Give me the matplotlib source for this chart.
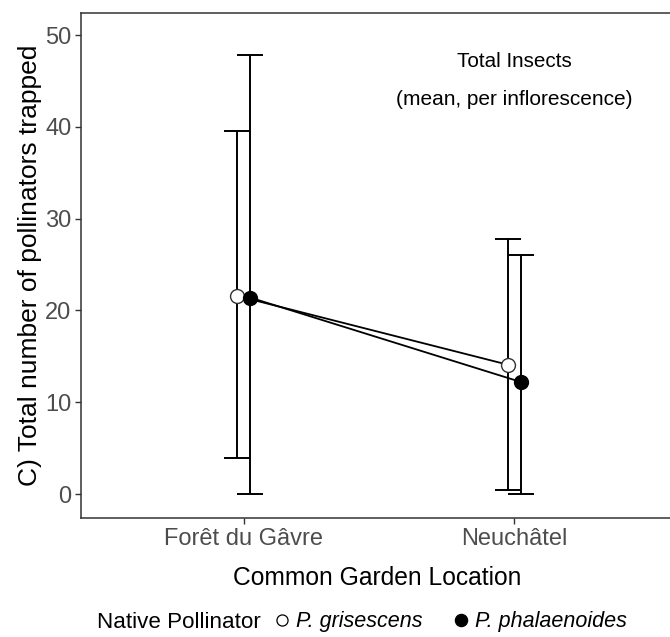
import numpy as np
import matplotlib.pyplot as plt
from matplotlib.lines import Line2D

plt.rcParams["font.family"] = ["Liberation Sans", "DejaVu Sans"]

locations = ["Forêt du Gâvre", "Neuchâtel"]
species = ["P. grisescens", "P. phalaenoides"]
means = {
    "P. grisescens": [21.6, 14.1],
    "P. phalaenoides": [21.4, 12.2],
}
upper = {
    "P. grisescens": [39.5, 27.8],
    "P. phalaenoides": [47.8, 26.0],
}
lower = {
    "P. grisescens": [3.9, 0.5],
    "P. phalaenoides": [0.0, 0.0],
}

faces = {"P. grisescens": "white", "P. phalaenoides": "black"}
dodge = {"P. grisescens": -0.025, "P. phalaenoides": 0.025}

W, H = 670, 637
fig = plt.figure(figsize=(W / 100, H / 100), dpi=100)
# panel from x=81..677 px, y=13..518 px (right border runs off the image)
ax = fig.add_axes([81 / W, 1 - 518 / H, 596 / W, 505 / H])

base = np.arange(1, len(locations) + 1)
for sp in species:
    x = base + dodge[sp]
    m = np.array(means[sp])
    lo = m - np.array(lower[sp])
    hi = np.array(upper[sp]) - m
    ax.errorbar(x, m, yerr=[lo, hi], fmt="none", ecolor="black",
                elinewidth=1.4, capsize=9.7, capthick=1.4, zorder=2)
    ax.plot(x, m, color="black", lw=1.3, zorder=3)
    ax.plot(x, m, "o", ms=10, mfc=faces[sp],
            mec="#333333" if sp == "P. grisescens" else "black",
            mew=1.0, zorder=4)

ax.set_xlim(0.4, 2.6)
ax.set_ylim(-2.6, 52.4)
ax.set_xticks(base)
ax.set_xticklabels(locations)
ax.set_yticks([0, 10, 20, 30, 40, 50])
ax.tick_params(axis="both", colors="#333333", length=4, width=1.0,
               labelsize=17, labelcolor="#4D4D4D", pad=3)
for s in ax.spines.values():
    s.set_color("#333333")
    s.set_linewidth(1.1)

ax.set_xlabel("Common Garden Location", fontsize=17.7, va="center")
ax.xaxis.set_label_coords((377.5 - 81) / 596, -60 / 505)
ax.set_ylabel("C) Total number of pollinators trapped", fontsize=19, va="center")
ax.yaxis.set_label_coords(-(81 - 30) / 596, 0.5)

ax.text(2.0, 47.1, "Total Insects", ha="center", va="center", fontsize=14.9)
ax.text(2.0, 43.0, "(mean, per inflorescence)", ha="center", va="center", fontsize=15)

fig.text(97 / W, 1 - 622 / H, "Native Pollinator", fontsize=16.1, va="center")
handles = [Line2D([], [], ls="none", marker="o", ms=8.0 if sp == "P. grisescens" else 8.8,
                  mfc=faces[sp], mec="black", mew=0.9)
           for sp in species]
fig.legend(handles, species, ncol=2, loc="center left",
           bbox_to_anchor=(273.4 / W, 1 - 622 / H), borderaxespad=0, borderpad=0,
           frameon=False, handlelength=0.8, handletextpad=0.25,
           columnspacing=1.37, prop={"style": "italic", "size": 15.5})

fig.savefig("out.png", dpi=100)
